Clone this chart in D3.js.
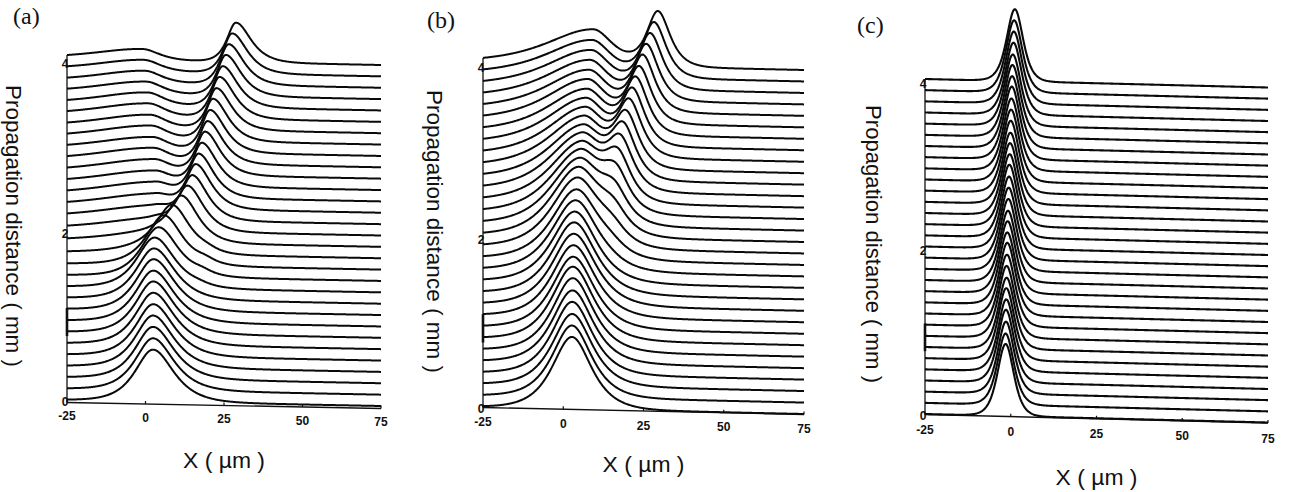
<!DOCTYPE html>
<html>
<head>
<meta charset="utf-8">
<script src="https://cdn.jsdelivr.net/npm/d3@7/dist/d3.min.js"></script>
<style>
  html, body { margin: 0; padding: 0; background: #fff; }
  svg { display: block; }
</style>
</head>
<body>
<svg id="chart" width="1290" height="492"></svg>
<script>
// Propagation distances (mm) of the recorded beam profiles
const zLevels = [0, 0.133, 0.267, 0.4, 0.533, 0.667, 0.8, 0.933, 1.067, 1.2, 1.333,
  1.467, 1.6, 1.733, 1.867, 2, 2.133, 2.267, 2.4, 2.533, 2.667, 2.8, 2.933,
  3.067, 3.2, 3.333, 3.467, 3.6, 3.733, 3.867, 4];
const xDomain = [-25, 75];
const xTicks = [-25, 0, 25, 50, 75];
const zTicks = [0, 2, 4];

// (a) main beam: centre (um), peak intensity (a.u.), left / right half-widths (um)
const aMainCenter = [2.4, 2.4, 2.4, 2.4, 2.5, 2.5, 2.5, 2.5, 2.6, 2.7, 2.9, 4.2, 6.0, 8.6, 11.6, 13.5, 15.0, 16.1, 17.0, 18.0, 19.0, 19.8, 20.6, 21.5, 22.6, 23.6, 24.6, 25.6, 26.5, 27.6, 28.8];
const aMainAmp    = [1.0, 1.0, 1.0, 1.0, 1.0, 1.0, 1.0, 0.99, 0.99, 0.98, 0.97, 0.95, 0.92, 0.89, 0.86, 0.84, 0.83, 0.83, 0.82, 0.82, 0.82, 0.81, 0.81, 0.81, 0.8, 0.8, 0.79, 0.79, 0.78, 0.77, 0.76];
const aMainWL     = [5.0, 5.0, 5.0, 5.0, 5.0, 5.0, 5.0, 5.0, 5.0, 5.0, 5.0, 4.9, 4.6, 4.2, 3.7, 3.3, 3.0, 2.8, 2.7, 2.6, 2.6, 2.5, 2.5, 2.5, 2.5, 2.5, 2.5, 2.5, 2.5, 2.5, 2.5];
const aMainWR     = [5.8, 5.8, 5.8, 5.8, 5.8, 5.8, 5.8, 5.8, 5.8, 5.8, 5.7, 5.5, 5.2, 4.9, 4.6, 4.4, 4.3, 4.3, 4.2, 4.2, 4.2, 4.2, 4.2, 4.2, 4.2, 4.2, 4.2, 4.2, 4.2, 4.2, 4.2];
// (a) residual light left near the input position
const aRestCenter = [0, 0, 0, 0, 0, 0, 0, 0, 0, 0, 0, 0, 1.0, 1.5, 2.0, 2.5, 3.0, 3.2, 3.2, 3.0, 2.8, 2.5, 2.2, 1.8, 1.4, 1.0, 0.6, 0.2, -0.2, -0.6, -1.0];
const aRestAmp    = [0, 0, 0, 0, 0, 0, 0, 0, 0, 0, 0, 0, 0.07, 0.14, 0.2, 0.24, 0.27, 0.28, 0.29, 0.29, 0.29, 0.29, 0.28, 0.28, 0.27, 0.27, 0.26, 0.25, 0.24, 0.23, 0.22];
const aRestWL     = [8, 8, 8, 8, 8, 8, 8, 8, 8, 8, 8, 8, 8, 10, 13, 15, 16, 16, 16, 16, 16, 16, 16, 15.5, 15, 15, 14.5, 14.5, 14, 14, 14];
const aRestWR     = [5, 5, 5, 5, 5, 5, 5, 5, 5, 5, 5, 5, 4.8, 4.8, 4.8, 4.8, 4.8, 4.8, 4.8, 4.8, 4.8, 4.8, 4.8, 4.8, 4.8, 4.8, 4.8, 4.8, 4.8, 4.8, 4.8];
// (a) weak radiation lobe during the break-up
const aLobeCenter = [0, 0, 0, 0, 0, 0, 0, 0, 0, 0, 17, 18, 19, 19.5, 0, 0, 0, 0, 0, 0, 0, 0, 0, 0, 0, 0, 0, 0, 0, 0, 0];
const aLobeAmp    = [0, 0, 0, 0, 0, 0, 0, 0, 0, 0, 0.03, 0.06, 0.07, 0.05, 0, 0, 0, 0, 0, 0, 0, 0, 0, 0, 0, 0, 0, 0, 0, 0, 0];
const aLobeW      = [3, 3, 3, 3, 3, 3, 3, 3, 3, 3, 2.8, 2.8, 2.8, 2.8, 3, 3, 3, 3, 3, 3, 3, 3, 3, 3, 3, 3, 3, 3, 3, 3, 3];

// (b) main beam
const bMainCenter = [2.7, 2.7, 2.8, 2.8, 2.9, 3.0, 3.0, 3.1, 3.2, 3.3, 3.4, 3.6, 3.8, 4.0, 4.2, 4.4, 4.7, 5.0, 5.3, 5.6, 5.9, 6.2, 6.6, 6.9, 7.2, 7.5, 7.9, 8.2, 8.6, 8.9, 9.3];
const bMainAmp    = [1.0, 1.0, 1.0, 1.01, 1.01, 1.02, 1.02, 1.0, 1.0, 1.0, 1.0, 0.99, 0.98, 0.96, 0.95, 0.93, 0.89, 0.85, 0.81, 0.78, 0.74, 0.71, 0.68, 0.65, 0.62, 0.6, 0.57, 0.55, 0.53, 0.51, 0.5];
const bMainWL     = [5.4, 5.4, 5.5, 5.5, 5.6, 5.6, 5.7, 5.8, 5.9, 6.0, 6.1, 6.3, 6.5, 6.7, 7.0, 7.3, 7.7, 8.1, 8.5, 8.9, 9.3, 9.7, 10.1, 10.5, 10.9, 11.3, 11.7, 12.0, 12.4, 12.7, 13.0];
const bMainWR     = [5.4, 5.4, 5.5, 5.5, 5.6, 5.6, 5.7, 5.8, 5.9, 6.0, 6.0, 6.0, 6.0, 6.0, 6.0, 6.0, 5.9, 5.8, 5.7, 5.6, 5.6, 5.5, 5.5, 5.5, 5.5, 5.5, 5.5, 5.5, 5.5, 5.5, 5.5];
// (b) split-off beam
const bSideCenter = [0, 0, 0, 0, 0, 0, 0, 0, 0, 0, 0, 0, 14.0, 14.5, 15.0, 15.4, 15.8, 16.3, 17.0, 17.8, 18.7, 19.6, 20.6, 21.6, 22.6, 23.7, 24.8, 25.9, 27.1, 28.3, 29.5];
const bSideAmp    = [0, 0, 0, 0, 0, 0, 0, 0, 0, 0, 0, 0, 0.04, 0.11, 0.2, 0.29, 0.39, 0.49, 0.57, 0.63, 0.67, 0.7, 0.72, 0.73, 0.74, 0.74, 0.75, 0.75, 0.75, 0.75, 0.75];
const bSideWL     = [3, 3, 3, 3, 3, 3, 3, 3, 3, 3, 3, 3, 4.5, 4.5, 4.5, 4.3, 4.1, 3.9, 3.7, 3.5, 3.4, 3.3, 3.2, 3.1, 3.1, 3.0, 3.0, 3.0, 3.0, 3.0, 3.0];
const bSideWR     = [3, 3, 3, 3, 3, 3, 3, 3, 3, 3, 3, 3, 4.0, 4.0, 3.9, 3.8, 3.7, 3.6, 3.5, 3.5, 3.4, 3.4, 3.4, 3.3, 3.3, 3.3, 3.3, 3.3, 3.3, 3.3, 3.3];

// (c) stationary beam
const cCenter = [-1.5, -1.5, -1.4, -1.4, -1.3, -1.3, -1.2, -1.2, -1.1, -1.0, -1.0, -0.9, -0.8, -0.7, -0.6, -0.5, -0.4, -0.3, -0.2, -0.1, 0.0, 0.1, 0.2, 0.3, 0.4, 0.5, 0.6, 0.8, 0.9, 1.0, 1.2];
const cAmp    = [1.0, 0.99, 1.0, 1.01, 1.0, 1.0, 0.99, 1.0, 1.0, 1.01, 1.0, 1.0, 0.99, 1.0, 1.0, 1.0, 1.01, 1.0, 1.0, 0.99, 1.0, 1.0, 1.0, 1.01, 1.0, 1.0, 0.99, 1.0, 1.0, 1.0, 1.0];
const cWidth  = [2.7, 2.7, 2.7, 2.7, 2.7, 2.7, 2.7, 2.7, 2.7, 2.7, 2.7, 2.7, 2.7, 2.7, 2.7, 2.7, 2.7, 2.7, 2.7, 2.7, 2.7, 2.7, 2.7, 2.7, 2.7, 2.7, 2.7, 2.7, 2.7, 2.7, 2.7];

// Panel layout: pixel ranges, slant of the baselines, intensity-to-mm scaling,
// profile shape (power of sech) and stroke weight
const panels = [
  { tag: "(a)", tagX: 13, tagY: 24, power: 1, stroke: 2.0,
    xRange: [67, 381], zRange: [400, 59], tilt: 6, gain: 0.61, axisDrop: 2.5,
    tickDy: 20, titleX: { y: 468 }, titleY: { x: 6, y: 85, len: 282 },
    comps: [
      { c: aMainCenter, a: aMainAmp, wl: aMainWL, wr: aMainWR },
      { c: aRestCenter, a: aRestAmp, wl: aRestWL, wr: aRestWR },
      { c: aLobeCenter, a: aLobeAmp, wl: aLobeW, wr: aLobeW }
    ] },
  { tag: "(b)", tagX: 427, tagY: 28, power: 1, stroke: 2.0,
    xRange: [483, 804], zRange: [407, 63], tilt: 7, gain: 0.837, axisDrop: 0.5,
    tickDy: 19, titleX: { y: 472 }, titleY: { x: 427, y: 90, len: 283 },
    comps: [
      { c: bMainCenter, a: bMainAmp, wl: bMainWL, wr: bMainWR },
      { c: bSideCenter, a: bSideAmp, wl: bSideWL, wr: bSideWR }
    ] },
  { tag: "(c)", tagX: 857, tagY: 33, power: 1.5, stroke: 2.1,
    xRange: [925, 1268], zRange: [414, 79], tilt: 8.5, gain: 0.86, axisDrop: 0.5,
    tickDy: 20, titleX: { y: 485 }, titleY: { x: 866, y: 105, len: 278 },
    comps: [
      { c: cCenter, a: cAmp, wl: cWidth, wr: cWidth }
    ] }
];

const svg = d3.select("#chart");
const sans = "'Liberation Sans', Arial, Helvetica, sans-serif";
const serif = "'Liberation Serif', 'Times New Roman', serif";
const sech = u => 1 / Math.cosh(u);
const xs = d3.range(xDomain[0], xDomain[1] + 1e-9, 0.2);

panels.forEach(p => {
  const g = svg.append("g");
  const x = d3.scaleLinear().domain(xDomain).range(p.xRange);
  const z = d3.scaleLinear().domain([0, 4]).range(p.zRange);
  const slant = d3.scaleLinear().domain(xDomain).range([0, p.tilt]);

  const intensity = (i, xv) => p.comps.reduce((s, k) => {
    if (!k.a[i]) return s;
    const w = xv < k.c[i] ? k.wl[i] : k.wr[i];
    return s + k.a[i] * Math.pow(sech((xv - k.c[i]) / w), p.power);
  }, 0);

  const line = d3.line().x(d => d[0]).y(d => d[1]);

  // profiles, bottom to top
  const profiles = zLevels.map((zv, i) =>
    xs.map(xv => [x(xv), z(zv + p.gain * intensity(i, xv)) + slant(xv)]));

  // x axis, slanted with the baselines
  const axisY = xv => z(0) + slant(xv) + p.axisDrop;
  g.append("line")
    .attr("x1", x(xDomain[0])).attr("y1", axisY(xDomain[0]))
    .attr("x2", x(xDomain[1])).attr("y2", axisY(xDomain[1]))
    .attr("stroke", "#111").attr("stroke-width", 1.4);
  g.selectAll(".xtick").data(xTicks).join("line")
    .attr("x1", d => x(d)).attr("x2", d => x(d))
    .attr("y1", d => axisY(d)).attr("y2", d => axisY(d) - 3)
    .attr("stroke", "#111").attr("stroke-width", 1.2);
  g.selectAll(".xlab").data(xTicks).join("text")
    .attr("x", d => x(d)).attr("y", d => axisY(d) - p.axisDrop + p.tickDy)
    .attr("text-anchor", "middle")
    .attr("font-family", sans).attr("font-weight", "bold").attr("font-size", 12)
    .attr("fill", "#111")
    .text(d => d);

  // vertical z axis from the x axis up to the last profile
  const topY = profiles[profiles.length - 1][0][1];
  g.append("line")
    .attr("x1", x(xDomain[0])).attr("x2", x(xDomain[0]))
    .attr("y1", axisY(xDomain[0])).attr("y2", topY)
    .attr("stroke", "#111").attr("stroke-width", 1.3);
  g.append("line")
    .attr("x1", x(xDomain[0])).attr("x2", x(xDomain[0]))
    .attr("y1", z(0.75)).attr("y2", z(1.08))
    .attr("stroke", "#111").attr("stroke-width", 2.6);
  g.selectAll(".zlab").data(zTicks).join("text")
    .attr("x", x(xDomain[0]) + 1.5).attr("y", d => z(d) + (d === 0 ? 6 : 8.5))
    .attr("text-anchor", "end")
    .attr("font-family", sans).attr("font-weight", "bold").attr("font-size", 12)
    .attr("fill", "#111")
    .text(d => d);

  g.selectAll(".profile").data(profiles).join("path")
    .attr("d", line)
    .attr("fill", "none")
    .attr("stroke", "#0a0a0a")
    .attr("stroke-width", p.stroke)
    .attr("stroke-linejoin", "round");

  // titles
  g.append("text")
    .attr("x", x(25)).attr("y", p.titleX.y)
    .attr("text-anchor", "middle")
    .attr("font-family", sans).attr("font-size", 22).attr("fill", "#111")
    .attr("textLength", 82).attr("lengthAdjust", "spacingAndGlyphs")
    .text("X ( \u00b5m )");
  g.append("text")
    .attr("transform", `translate(${p.titleY.x},${p.titleY.y}) rotate(90)`)
    .attr("font-family", sans).attr("font-size", 22).attr("fill", "#111")
    .attr("textLength", p.titleY.len).attr("lengthAdjust", "spacingAndGlyphs")
    .text("Propagation distance ( mm )");
  g.append("text")
    .attr("x", p.tagX).attr("y", p.tagY)
    .attr("font-family", serif).attr("font-size", 24).attr("fill", "#111")
    .text(p.tag);
});
</script>
</body>
</html>
